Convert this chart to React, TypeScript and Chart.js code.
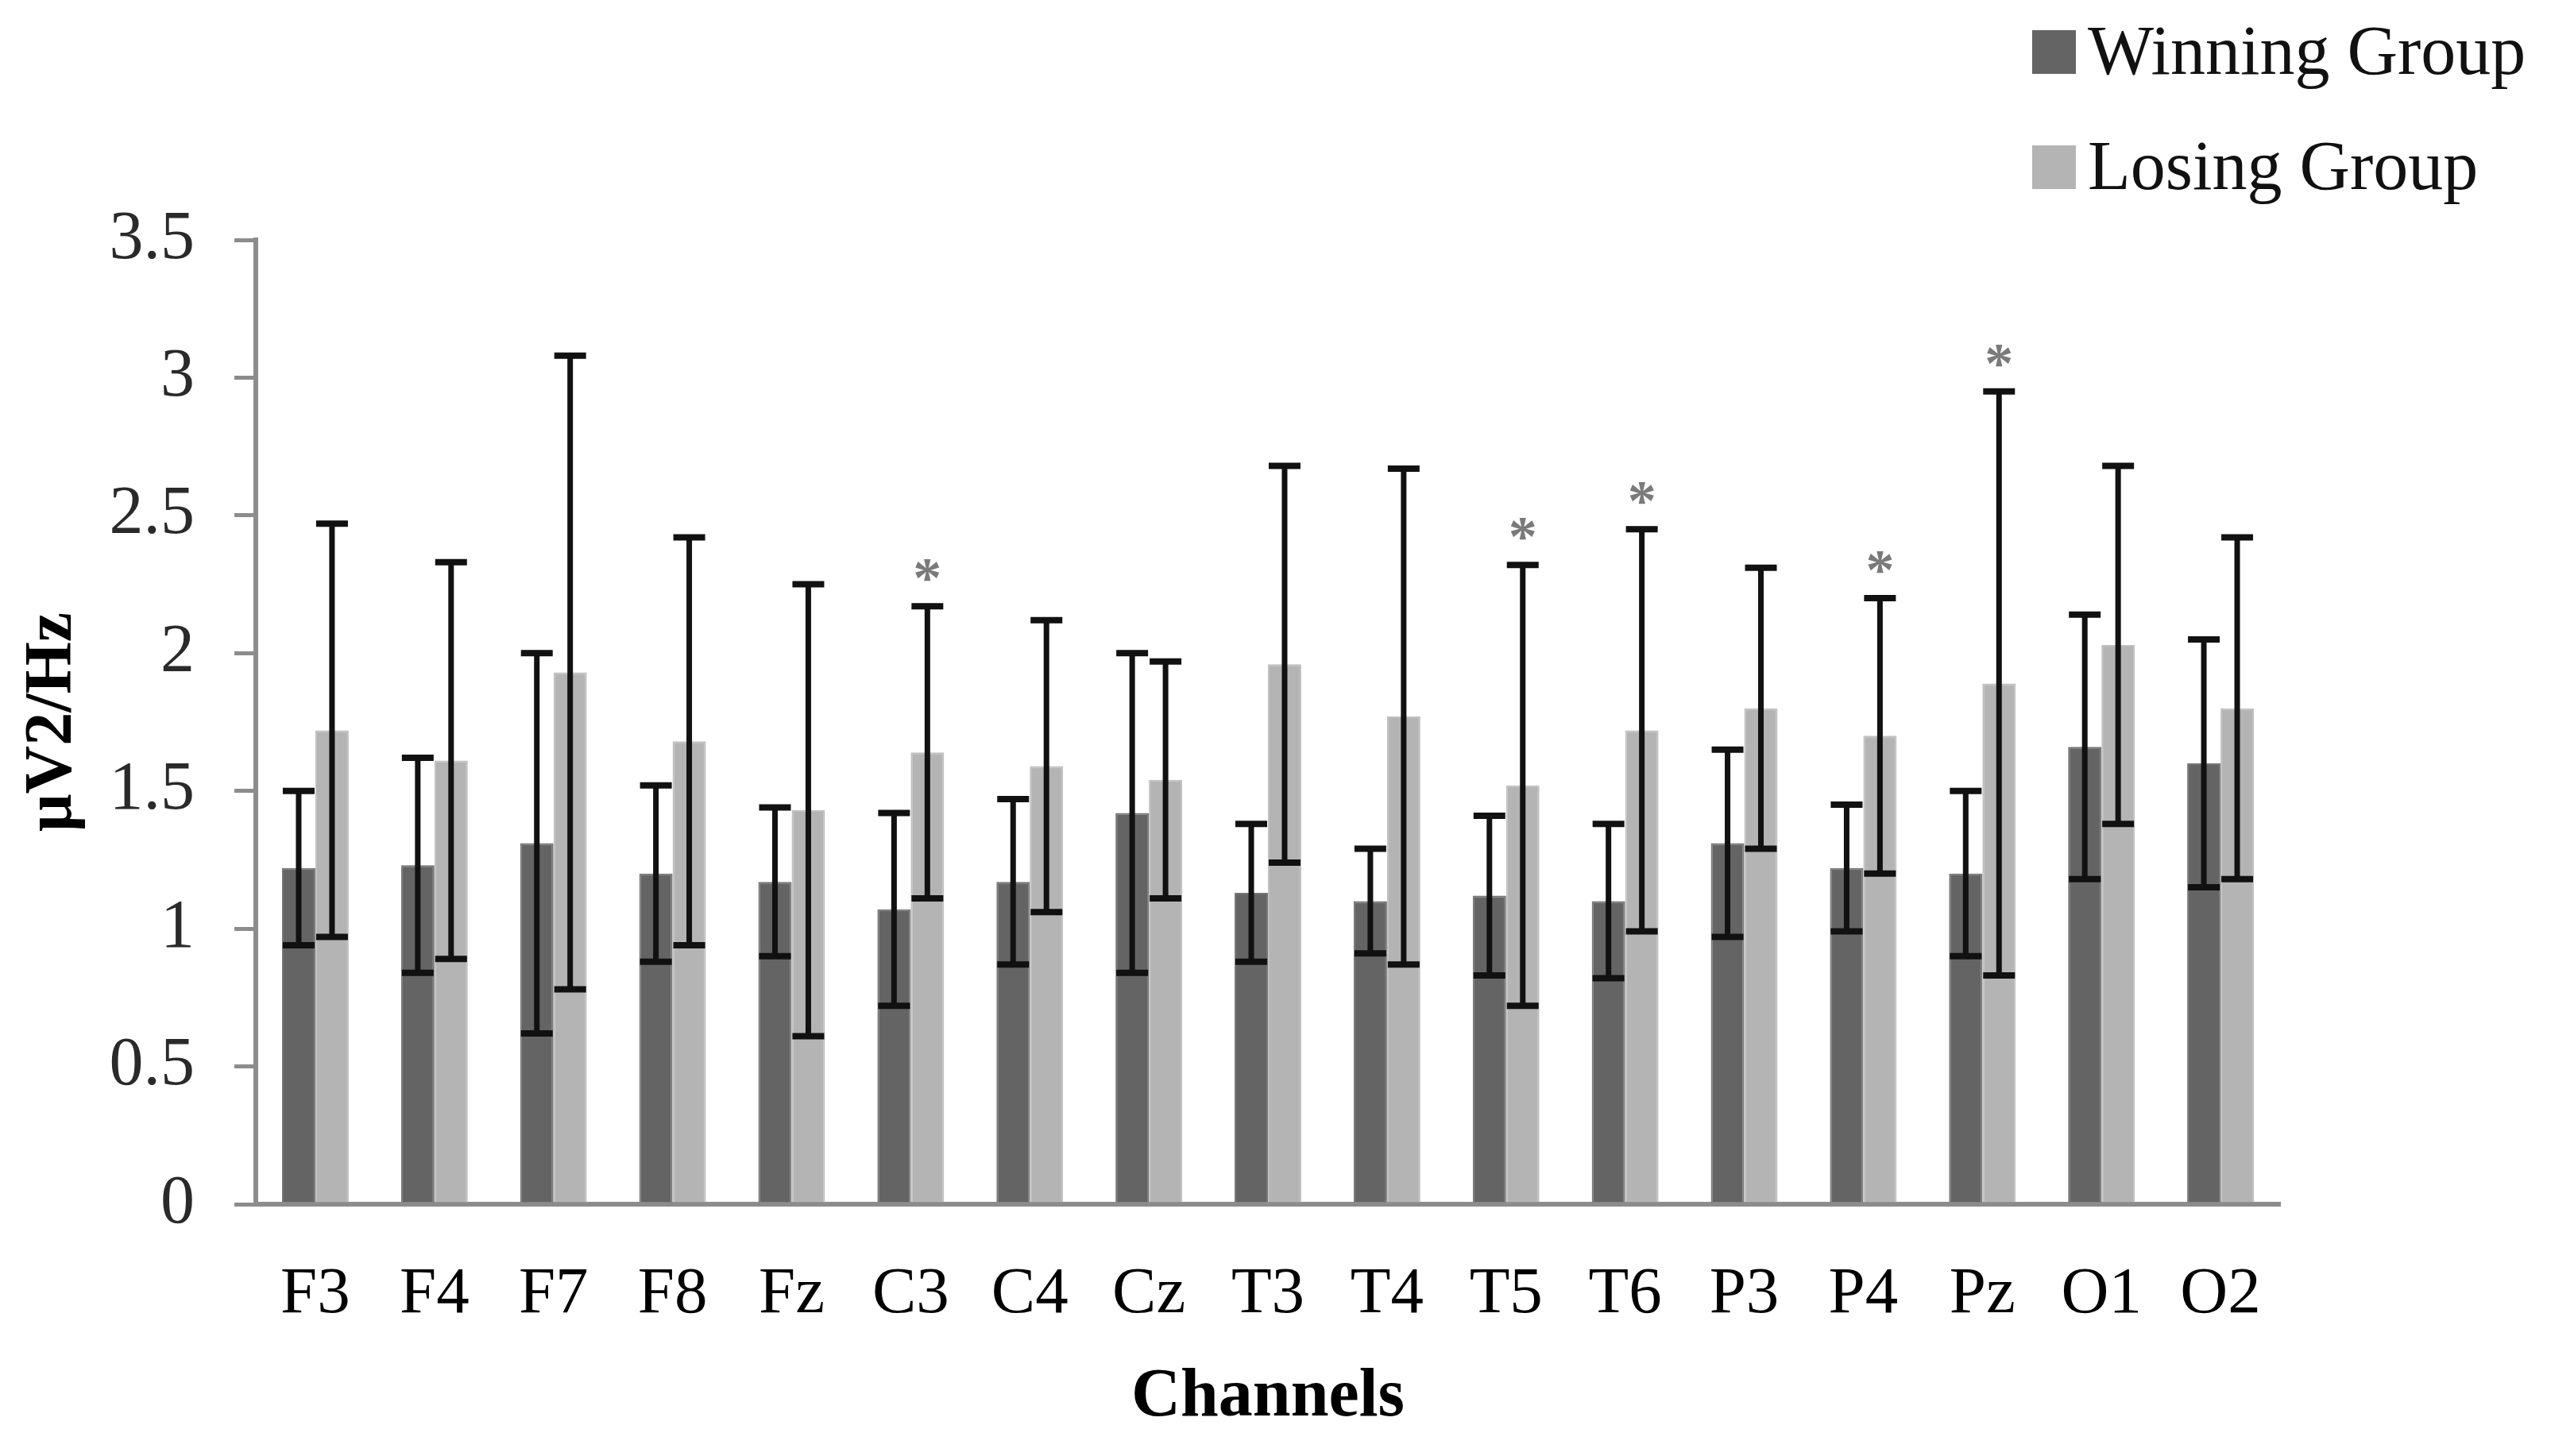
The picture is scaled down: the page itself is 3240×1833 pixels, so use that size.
import React, { useEffect, useRef } from "react";
import { Chart, registerables } from "chart.js";

Chart.register(...registerables);

const channels = ["F3", "F4", "F7", "F8", "Fz", "C3", "C4", "Cz", "T3", "T4", "T5", "T6", "P3", "P4", "Pz", "O1", "O2"];
const winningMean = [1.22, 1.23, 1.31, 1.2, 1.17, 1.07, 1.17, 1.42, 1.13, 1.1, 1.12, 1.1, 1.31, 1.22, 1.2, 1.66, 1.6];
const winningSD = [0.28, 0.39, 0.69, 0.32, 0.27, 0.35, 0.3, 0.58, 0.25, 0.19, 0.29, 0.28, 0.34, 0.23, 0.3, 0.48, 0.45];
const losingMean = [1.72, 1.61, 1.93, 1.68, 1.43, 1.64, 1.59, 1.54, 1.96, 1.77, 1.52, 1.72, 1.8, 1.7, 1.89, 2.03, 1.8];
const losingSD = [0.75, 0.72, 1.15, 0.74, 0.82, 0.53, 0.53, 0.43, 0.72, 0.9, 0.8, 0.73, 0.51, 0.5, 1.06, 0.65, 0.62];
const significant = [false, false, false, false, false, true, false, false, false, false, true, true, false, true, true, false, false];
const seriesNames = ["Winning Group", "Losing Group"];
const yTitle = "μV2/Hz";
const xTitle = "Channels";

const SERIF = "'Liberation Serif', 'DejaVu Serif', serif";
const WIN_COLOR = "#646464";
const LOSE_COLOR = "#b4b4b4";

const errorBarPlugin = {
  id: "errorBars",
  afterDatasetsDraw(chart: any) {
    const ctx = chart.ctx;
    const yScale = chart.scales.y;
    const sds = [winningSD, losingSD];
    const means = [winningMean, losingMean];
    ctx.save();
    for (let d = 0; d < 2; d++) {
      const meta = chart.getDatasetMeta(d);
      meta.data.forEach((bar: any, i: number) => {
        const x = bar.x;
        const top = yScale.getPixelForValue(means[d][i] + sds[d][i]);
        const bot = yScale.getPixelForValue(means[d][i] - sds[d][i]);
        ctx.strokeStyle = "#111111";
        ctx.lineWidth = 7;
        ctx.lineCap = "butt";
        ctx.beginPath();
        ctx.moveTo(x, top);
        ctx.lineTo(x, bot);
        ctx.stroke();
        ctx.lineWidth = 8;
        ctx.beginPath();
        ctx.moveTo(x - 20, top);
        ctx.lineTo(x + 20, top);
        ctx.moveTo(x - 20, bot);
        ctx.lineTo(x + 20, bot);
        ctx.stroke();
        if (d === 1 && significant[i]) {
          ctx.fillStyle = "#7a7a7a";
          ctx.font = `bold 72px ${SERIF}`;
          ctx.textAlign = "center";
          ctx.textBaseline = "alphabetic";
          ctx.fillText("*", x, top - 12);
        }
      });
    }
    ctx.restore();
  },
  afterDraw(chart: any) {
    const ctx = chart.ctx;
    const colors = [WIN_COLOR, LOSE_COLOR];
    ctx.save();
    seriesNames.forEach((name, i) => {
      const baseline = 93 + i * 145;
      ctx.fillStyle = colors[i];
      ctx.fillRect(2558, baseline - 55, 55, 55);
      ctx.fillStyle = "#111111";
      ctx.font = `88px ${SERIF}`;
      ctx.textAlign = "left";
      ctx.textBaseline = "alphabetic";
      ctx.fillText(name, 2628, baseline);
    });
    ctx.restore();
  },
};

export default function App() {
  const canvasRef = useRef<HTMLCanvasElement | null>(null);

  useEffect(() => {
    document.body.style.margin = "0";
    const canvas = canvasRef.current;
    if (!canvas) return;
    const chart = new Chart(canvas, {
      type: "bar",
      data: {
        labels: channels,
        datasets: [
          {
            label: seriesNames[0],
            data: winningMean,
            backgroundColor: WIN_COLOR,
            borderColor: "#767676",
            borderWidth: 2,
            categoryPercentage: 0.56,
            barPercentage: 1.0,
          },
          {
            label: seriesNames[1],
            data: losingMean,
            backgroundColor: LOSE_COLOR,
            borderColor: "#c0c0c0",
            borderWidth: 2,
            categoryPercentage: 0.56,
            barPercentage: 1.0,
          },
        ],
      },
      options: {
        responsive: false,
        animation: false,
        events: [],
        devicePixelRatio: 1,
        layout: { padding: { top: 302, right: 370, bottom: 0, left: 0 } },
        plugins: {
          legend: { display: false },
          tooltip: { enabled: false },
          title: { display: false },
        },
        scales: {
          x: {
            type: "category",
            offset: true,
            grid: { display: false, drawTicks: false },
            border: { display: true, color: "#8c8c8c", width: 6 },
            ticks: {
              color: "#000000",
              font: { family: SERIF, size: 83 },
              padding: 64,
              maxRotation: 0,
              autoSkip: false,
            },
            title: {
              display: true,
              text: xTitle,
              color: "#000000",
              font: { family: SERIF, size: 86, weight: "bold" },
              padding: { top: 0, bottom: 22 },
            },
            afterFit(scale: any) {
              scale.height = 317;
            },
          },
          y: {
            min: 0,
            max: 3.5,
            ticks: {
              stepSize: 0.5,
              color: "#2a2a2a",
              font: { family: SERIF, size: 86 },
              padding: 50,
              callback: (value: any) => `${Number(value)}`,
            },
            grid: {
              display: true,
              drawOnChartArea: false,
              drawTicks: true,
              tickLength: 27,
              color: "#8c8c8c",
              lineWidth: 5,
            },
            border: { display: true, color: "#8c8c8c", width: 6 },
            title: {
              display: true,
              text: yTitle,
              color: "#000000",
              font: { family: SERIF, size: 84, weight: "bold" },
              padding: { top: 17, bottom: 0 },
            },
            afterFit(scale: any) {
              scale.width = 322;
            },
          },
        },
      },
      plugins: [errorBarPlugin],
    });
    return () => chart.destroy();
  }, []);

  return (
    <div style={{ width: 3240, height: 1833, background: "#ffffff" }}>
      <canvas ref={canvasRef} width={3240} height={1833} style={{ display: "block" }} />
    </div>
  );
}
